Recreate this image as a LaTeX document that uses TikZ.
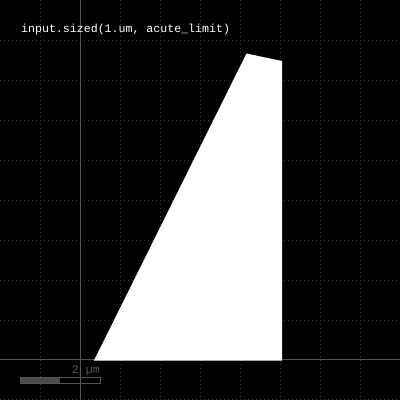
\documentclass[tikz,border=0pt]{standalone}
\usepackage{fontspec}
\setmonofont{Liberation Mono}
\definecolor{gridc}{HTML}{3A3A3A}
\definecolor{axisc}{HTML}{555555}
\definecolor{barc}{HTML}{4A4A4A}
\begin{document}
\begin{tikzpicture}[x=1pt,y=-1pt,
  gridline/.style={draw=gridc,line width=1pt,dash pattern=on 1pt off 3pt},
  axisline/.style={draw=axisc,line width=1pt},
  lbl/.style={font=\ttfamily\fontsize{11.6}{12}\selectfont,inner sep=0pt}]
\fill[black] (0,0) rectangle (400,400);
\useasboundingbox (0,0) rectangle (400,400);
\foreach \x in {40,120,160,200,240,280,320,360}
  \draw[gridline] (\x,0) -- (\x,400);
\foreach \y in {40,80,120,160,200,240,280,320,399.5}
  \draw[gridline] (0,\y) -- (400,\y);
\draw[axisline] (80,0) -- (80,400);
\draw[axisline] (0,359.5) -- (400,359.5);
\fill[white] (94,360.5) -- (282,360.5) -- (282,61) -- (246.5,53.5) -- cycle;
\node[lbl,text=white,anchor=base west] (title) at (21,32) {input.sized(1.um, acute\_limit)};
\node[lbl,text=axisc,anchor=base east] (scale) at (100,373) {2 µm};
\fill[barc] (20,377) rectangle (60,383);
\draw[axisc,line width=1pt] (20.5,377.5) rectangle (100.5,383.5);
\end{tikzpicture}
\end{document}
